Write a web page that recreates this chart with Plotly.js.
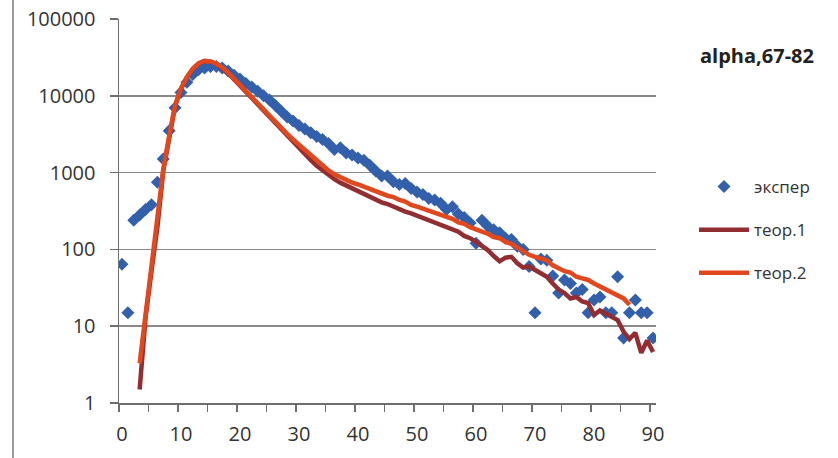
<!DOCTYPE html>
<html>
<head>
<meta charset="utf-8">
<script src="https://cdn.plot.ly/plotly-3.0.1.min.js"></script>
<style>
  html, body { margin: 0; padding: 0; background: #ffffff; }
  #chart { width: 838px; height: 458px; }
</style>
</head>
<body>
<div id="chart"></div>
<script>
// Category index (0..90)
const categories = [0,1,2,3,4,5,6,7,8,9,10,11,12,13,14,15,16,17,18,19,20,21,22,23,24,25,26,27,28,29,30,31,32,33,34,35,36,37,38,39,40,41,42,43,44,45,46,47,48,49,50,51,52,53,54,55,56,57,58,59,60,61,62,63,64,65,66,67,68,69,70,71,72,73,74,75,76,77,78,79,80,81,82,83,84,85,86,87,88,89,90];

// экспер (experimental points)
const exper = [64,15,240,280,330,380,750,1500,3500,7000,11000,15000,19000,22000,23000,24000,24000,23000,21000,18500,16500,14500,13000,11500,10000,8800,7500,6300,5300,4700,4100,3700,3300,2950,2700,2400,2000,2100,1800,1700,1550,1450,1250,1050,900,900,760,700,720,620,560,520,460,440,400,330,360,290,260,220,120,240,200,180,165,140,135,110,100,60,15,75,72,45,27,40,36,27,30,15,22,24,15,15,44,7,15,22,15,15,7];

// теор.1
const teor1 = [null,null,null,1.5,13,52,195,1050,2900,7300,12300,17300,22300,26300,28300,27800,26000,23000,19700,16300,13500,11200,9200,7600,6300,5200,4300,3550,2950,2450,2050,1700,1450,1230,1060,920,820,740,680,610,570,520,480,450,410,390,360,330,310,295,275,260,245,225,210,195,180,170,150,140,125,110,98,82,70,78,80,66,58,60,54,48,44,36,30,27,23,24,21,20,14,16,14.5,13,12,8.5,6.8,8.2,4.5,6.5,4.6];

// теор.2
const teor2 = [null,null,null,3.3,14,55,200,1100,3000,7500,12500,17500,22500,26500,28500,28000,26300,23400,20000,16600,13800,11500,9500,7900,6600,5500,4600,3800,3200,2700,2300,1950,1660,1410,1230,1070,950,870,800,740,700,650,620,570,540,500,480,440,420,380,360,340,320,300,280,265,250,225,215,195,185,170,160,145,140,125,118,105,95,85,80,75,72,62,56,52,50,44,42,40,36,33,30,28,25,23,19,null,null,null,null];

const xTickVals = [0,10,20,30,40,50,60,70,80,90];
const xTickText = ["0","10","20","30","40","50","60","70","80","90"];
const yTickVals = [1,10,100,1000,10000,100000];
const yTickText = ["1","10","100","1000","10000","100000"];

const seriesNames = ["экспер","теор.1","теор.2"];
const chartTitle = "alpha,67-82";

const FONT = "'Open Sans', 'Noto Sans', sans-serif";

const traces = [
  {
    x: categories, y: exper, name: seriesNames[0], type: 'scatter', mode: 'markers',
    marker: { symbol: 'diamond', size: 10, color: '#3360ab' },
    legendgroup: 'a'
  },
  {
    x: categories, y: teor1, name: seriesNames[1], type: 'scatter', mode: 'lines',
    line: { color: '#922e32', width: 4.5 }, connectgaps: false,
    legendgroup: 'b'
  },
  {
    x: categories, y: teor2, name: seriesNames[2], type: 'scatter', mode: 'lines',
    line: { color: '#e2481e', width: 4.5 }, connectgaps: false,
    legendgroup: 'c'
  }
];

const L = 119, R = 182, T = 19, B = 55;
const PW = 838 - L - R, PH = 458 - T - B;

const layout = {
  width: 838, height: 458,
  margin: { l: L, r: R, t: T, b: B, pad: 0 },
  paper_bgcolor: '#ffffff', plot_bgcolor: '#ffffff',
  font: { family: FONT, size: 18, color: '#333333' },
  showlegend: true,
  legend: {
    x: (694 - L) / PW, xanchor: 'left',
    y: (403 - 169) / PH, yanchor: 'top',
    font: { family: FONT, size: 17, color: '#333333' },
    itemwidth: 50, tracegroupgap: 18,
    bgcolor: 'rgba(0,0,0,0)'
  },
  xaxis: {
    type: 'linear', range: [-0.5, 90.5],
    tickmode: 'array', tickvals: xTickVals, ticktext: xTickText,
    ticks: '', showgrid: false, zeroline: false,
    showline: true, linecolor: '#6e6e6e', linewidth: 1.5,
    tickfont: { family: FONT, size: 20, color: '#333333' },
    ticklabelstandoff: 12,
    minor: { ticks: 'outside', ticklen: 7, tickwidth: 1.5, tickcolor: '#6e6e6e', tick0: -0.5, dtick: 5, showgrid: false },
    fixedrange: true
  },
  yaxis: {
    type: 'log', range: [0, 5],
    tickmode: 'array', tickvals: yTickVals, ticktext: yTickText,
    ticks: 'outside', ticklen: 8, tickwidth: 1.5, tickcolor: '#6e6e6e',
    showgrid: true, gridcolor: '#8a8a8a', gridwidth: 1.5,
    showline: true, linecolor: '#6e6e6e', linewidth: 1.5,
    zeroline: false,
    tickfont: { family: FONT, size: 20, color: '#333333' },
    ticklabelstandoff: 10,
    fixedrange: true
  },
  annotations: [
    {
      text: '<b>' + chartTitle + '</b>', xref: 'paper', yref: 'paper',
      x: (698 - L) / PW, xanchor: 'left', y: (403 - 56) / PH, yanchor: 'middle',
      showarrow: false, font: { family: FONT, size: 20, color: '#222222' }
    }
  ],
  shapes: [
    {
      type: 'line', xref: 'paper', yref: 'paper',
      x0: (13 - L) / PW, x1: (13 - L) / PW, y0: (403 - 458) / PH, y1: 403 / PH,
      line: { color: '#7a7a7a', width: 1.5 }
    }
  ]
};

Plotly.newPlot('chart', traces, layout, { displayModeBar: false, staticPlot: true });
</script>
</body>
</html>
